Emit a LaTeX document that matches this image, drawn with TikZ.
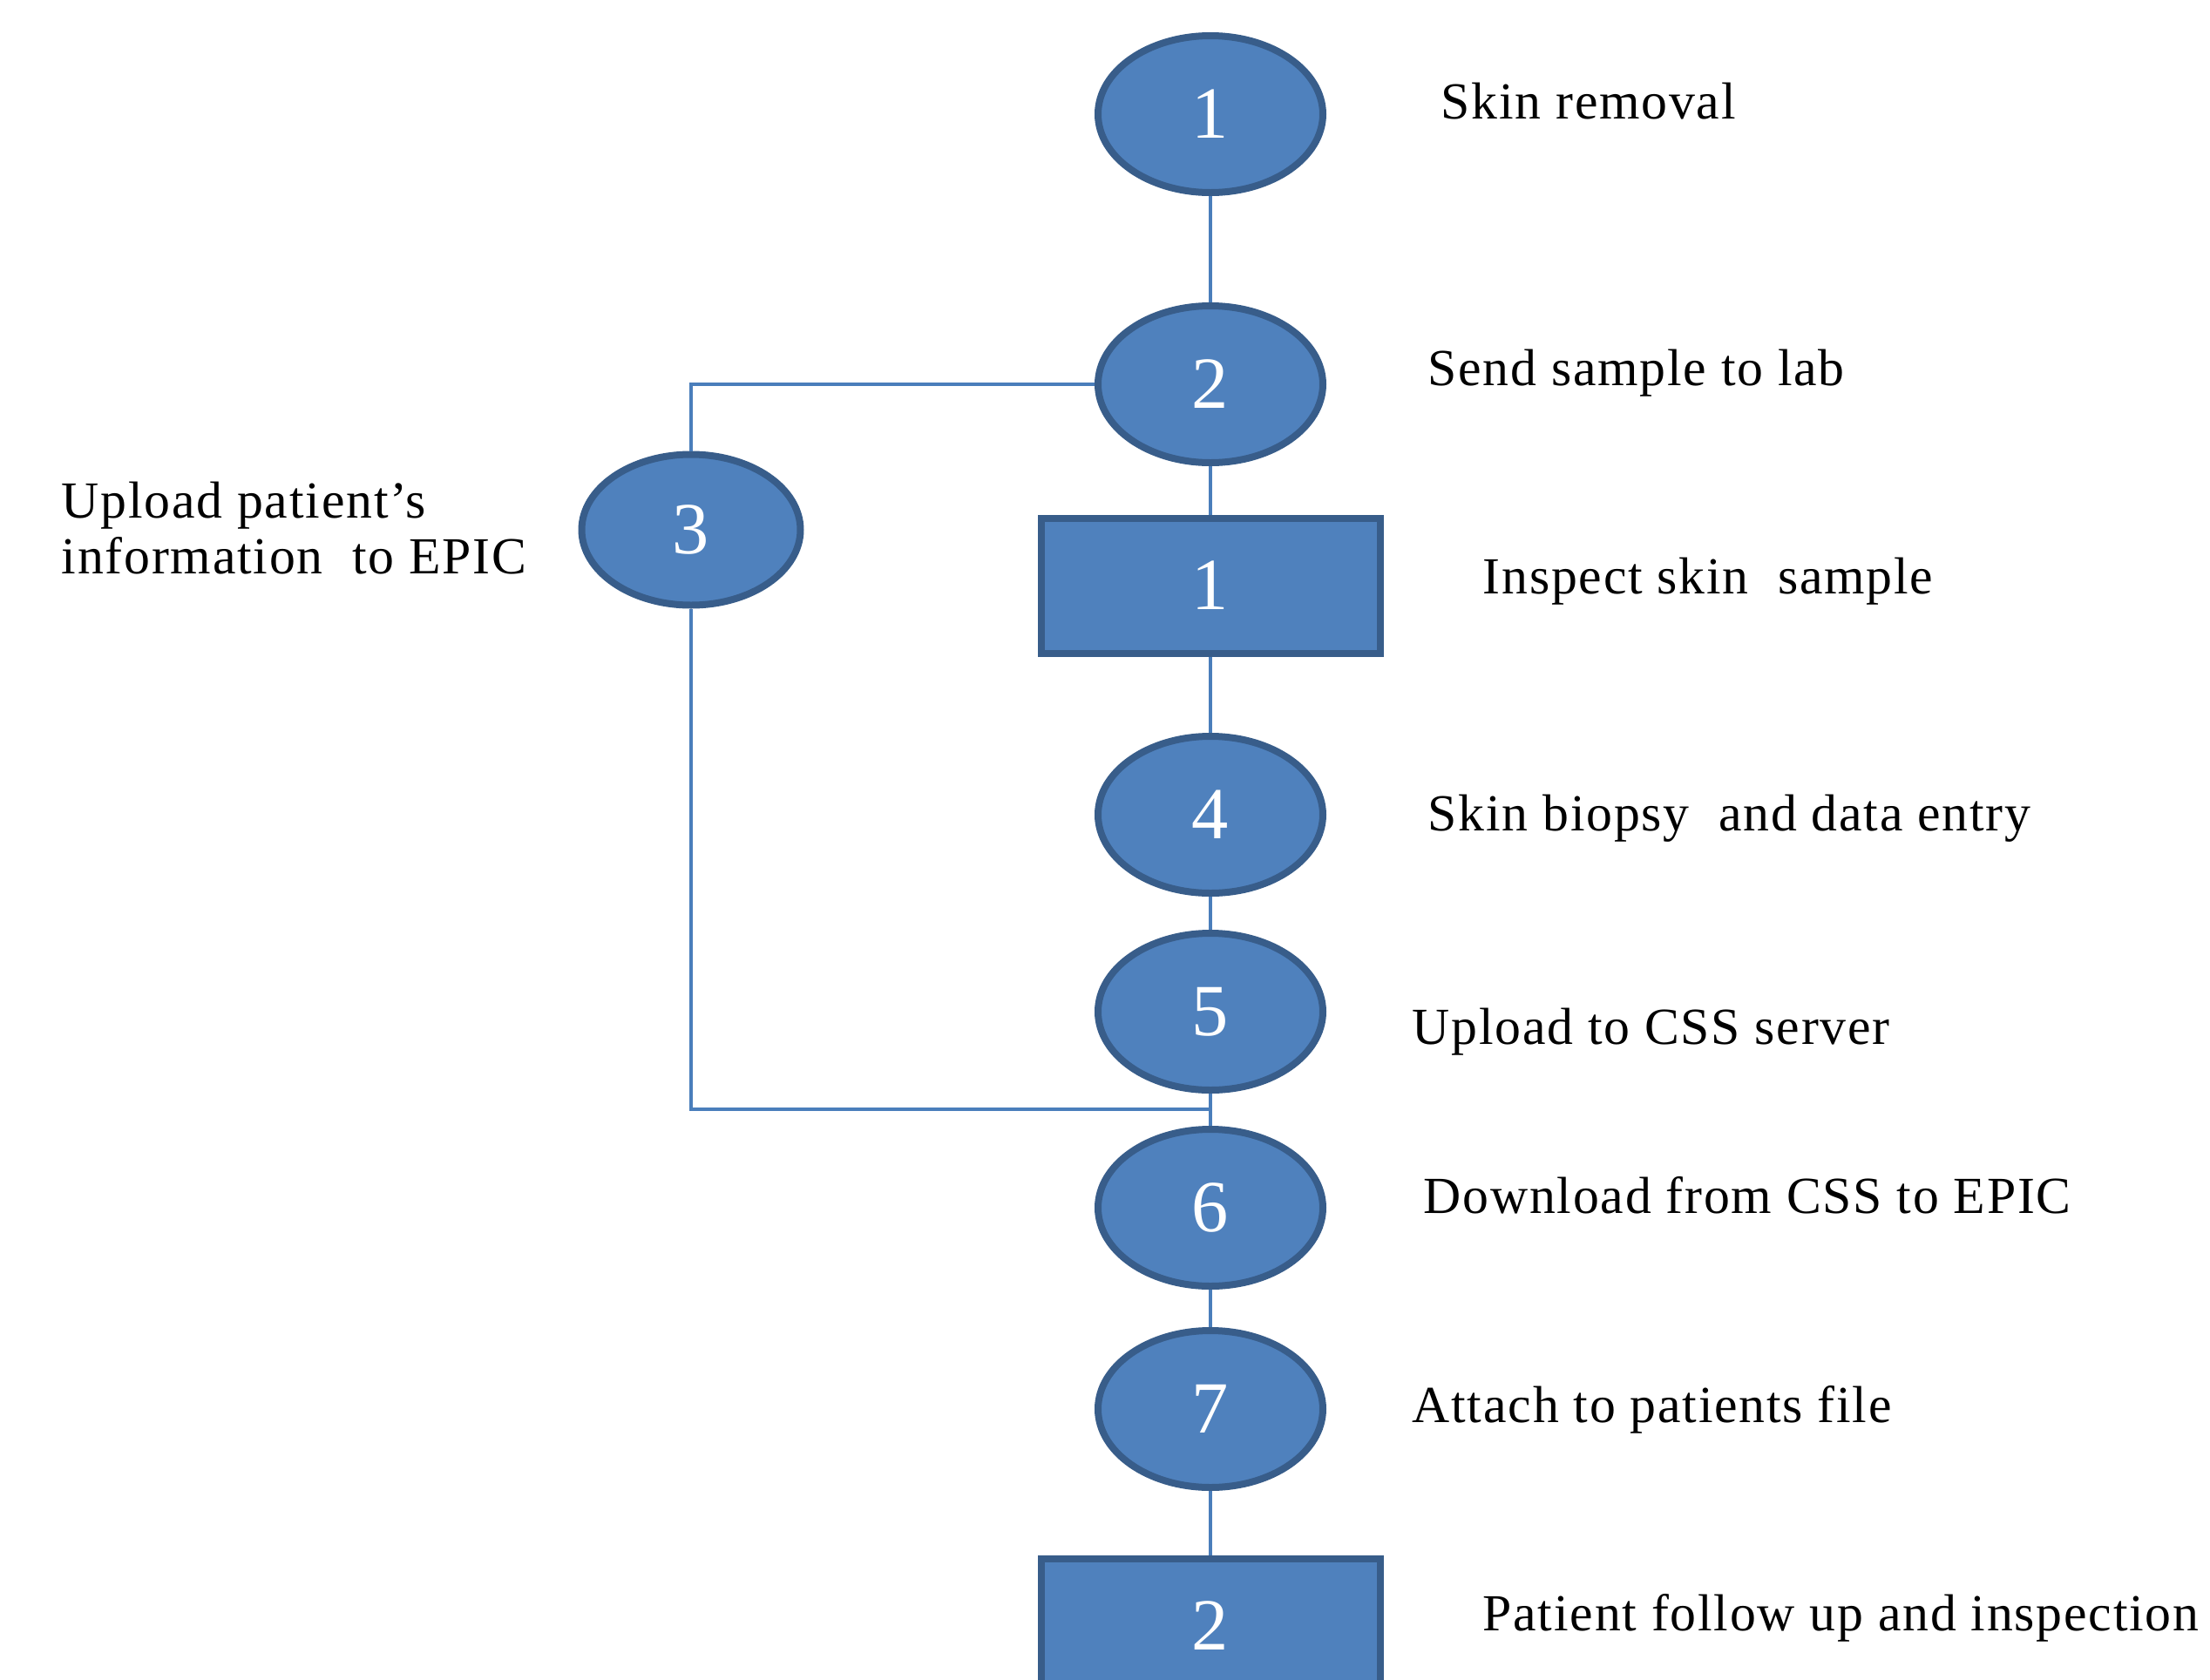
\documentclass[tikz,border=0pt]{standalone}
\usepackage{fontspec}
\setmainfont{Liberation Serif}
\usepackage{tikz}
\usetikzlibrary{positioning,shapes.geometric}
\definecolor{cFill}{HTML}{4F81BD}
\definecolor{cEdge}{HTML}{385D8A}
\definecolor{cLine}{HTML}{4A7EBB}
\tikzset{
  stepcirc/.style={ellipse, draw=cEdge, fill=cFill, line width=0.08cm,
                   minimum width=2.58cm, minimum height=1.80cm, inner sep=0pt,
                   text=white, font=\fontsize{24}{26}\selectfont},
  stepbox/.style={rectangle, draw=cEdge, fill=cFill, line width=0.08cm,
                  minimum width=3.89cm, minimum height=1.55cm, inner sep=0pt,
                  text=white, font=\fontsize{24}{26}\selectfont},
  lnk/.style={cLine, line width=0.9pt},
  lbl/.style={anchor=base west, inner sep=0pt, align=left,
              font=\fontsize{17}{18}\selectfont\addfontfeature{LetterSpace=3}}
}
\begin{document}
\begin{tikzpicture}
\useasboundingbox (0,0) rectangle (25.36,-19.28);
% main line of steps
\node[stepcirc] (s1) at (13.89,-1.31) {1};
\node[stepcirc] (s2) at (13.89,-4.41) {2};
\node[stepbox]  (b1) at (13.89,-6.72) {1};
\node[stepcirc] (s4) at (13.89,-9.35) {4};
\node[stepcirc] (s5) at (13.89,-11.61) {5};
\node[stepcirc] (s6) at (13.89,-13.86) {6};
\node[stepcirc] (s7) at (13.89,-16.17) {7};
\node[stepbox]  (b2) at (13.89,-18.66) {2};
% side branch
\node[stepcirc, minimum width=2.51cm, minimum height=1.73cm] (s3) at (7.93,-6.08) {3};
\coordinate (join) at (13.89,-12.73);
% labels
\node[lbl] (l1) at (16.53,-1.36) {Skin removal};
\node[lbl] (l2) at (16.38,-4.42) {Send sample to lab};
\node[lbl] (l3) at (17.01,-6.81) {Inspect skin\ \ sample};
\node[lbl] (l4) at (16.38,-9.53) {Skin biopsy\ \ and data entry};
\node[lbl] (l5) at (16.20,-11.98) {Upload to CSS server};
\node[lbl] (l6) at (16.33,-13.92) {Download from CSS to EPIC};
\node[lbl] (l7) at (16.20,-16.32) {Attach to patients file};
\node[lbl] (l8) at (17.01,-18.71) {Patient follow up and inspection};
\node[lbl] (l3b) at (0.70,-6.58) {Upload patient’s\\information\ \ to EPIC};
% connectors
\draw[lnk] (s1) -- (s2); \draw[lnk] (s2) -- (b1); \draw[lnk] (b1) -- (s4);
\draw[lnk] (s4) -- (s5); \draw[lnk] (s5) -- (s6); \draw[lnk] (s6) -- (s7);
\draw[lnk] (s7) -- (b2);
\draw[lnk] (s2.west) -| (s3.north);
\draw[lnk] (s3.south) |- (join);
\end{tikzpicture}
\end{document}
